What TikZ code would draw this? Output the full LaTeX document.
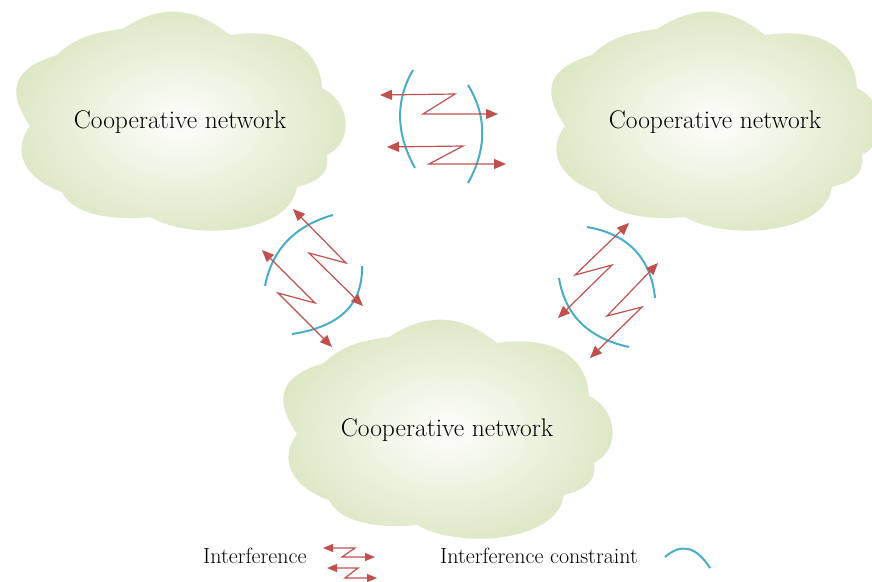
\documentclass[tikz,border=0pt]{standalone}
\usepackage{fontspec}
\usetikzlibrary{arrows.meta}

\definecolor{cloudedge}{HTML}{C6D9A2}
\definecolor{cloudmid}{HTML}{FAFBF5}
\definecolor{interf}{HTML}{C0504D}
\definecolor{constr}{HTML}{4BACC6}

\pgfdeclareradialshading{cloudglow}{\pgfpoint{0bp}{0bp}}{%
  color(0bp)=(cloudmid); color(3bp)=(cloudmid);
  color(40bp)=(cloudedge); color(50bp)=(cloudedge)}

\tikzset{
  % a cloud of nine puffs, centred on the pic's origin (y grows downwards)
  netcloud/.pic={
    \shade[shading=cloudglow] (-58,-92)
      .. controls (-19,-117) and (14,-115) .. (50,-86)
      .. controls (105,-94) and (140,-73) .. (142,-33)
      .. controls (170,-20) and (175,20) .. (147,34)
      .. controls (150,54) and (136,61) .. (117,66)
      .. controls (110,114) and (11,120) .. (-30,96)
      .. controls (-58,99) and (-106,97) .. (-118,71)
      .. controls (-151,60) and (-171,33) .. (-150,5)
      .. controls (-175,-32) and (-166,-53) .. (-123,-66)
      .. controls (-105,-84) and (-83,-89) .. (-58,-92)
      -- cycle;
  },
  netlabel/.style={anchor=base, font=\fontsize{25.5}{30}\selectfont, inner sep=0pt},
  legendtext/.style={anchor=base west, font=\fontsize{22}{26}\selectfont, inner sep=0pt},
  zig/.style={draw=interf, line width=1.2pt,
    {Triangle[length=12pt,width=10pt]}-{Triangle[length=12pt,width=10pt]}},
  smallzig/.style={draw=interf, line width=1.2pt,
    {Triangle[length=10pt,width=8pt]}-{Triangle[length=10pt,width=8pt]}},
  constraint/.style={draw=constr, line width=2pt},
}

\begin{document}
\begin{tikzpicture}[x=1pt, y=-1pt]
\useasboundingbox (0,0) rectangle (872,581);

% the three cooperative networks
\pic at (180,121) {netcloud};
\pic at (715,121) {netcloud};
\pic at (447,429) {netcloud};
\node[netlabel] (netA) at (180,128) {Cooperative network};
\node[netlabel] (netB) at (715,128) {Cooperative network};
\node[netlabel] (netC) at (447,436) {Cooperative network};

% interference between the two upper networks
\draw[constraint] (413,70) .. controls (395,101) and (396,134) .. (415,168);
\draw[constraint] (468,85) .. controls (487,116) and (487,149) .. (468,183);
\draw[zig] (380,95) -- (455,94) -- (423,114) -- (498,114);
\draw[zig] (387,147) -- (463,146) -- (429,164) -- (506,164);

% interference between the left and the lower network
\draw[constraint] (333,215) .. controls (294,226) and (272,250) .. (265,286);
\draw[constraint] (362,266) .. controls (363,305) and (339,327) .. (292,334);
\draw[zig] (293,209) -- (346,263) -- (309,253) -- (363,306);
\draw[zig] (262,250) -- (315,303) -- (278,293) -- (332,347);

% interference between the right and the lower network
\draw[constraint] (587,227) .. controls (628,234) and (651,258) .. (655,298);
\draw[constraint] (559,278) .. controls (565,315) and (588,338) .. (629,347);
\draw[zig] (629,223) -- (575,275) -- (612,265) -- (558,318);
\draw[zig] (658,263) -- (607,316) -- (642,307) -- (590,358);

% legend
\node[legendtext] (legI) at (203,563) {Interference};
\draw[smallzig] (323,548) -- (355,548) -- (342,557) -- (375,557);
\draw[smallzig] (327,568) -- (358,568) -- (345,578) -- (377,578);
\node[legendtext] (legC) at (440,563) {Interference constraint};
\draw[constraint] (665,557) .. controls (681,543) and (696,546) .. (710,568);
\end{tikzpicture}
\end{document}
